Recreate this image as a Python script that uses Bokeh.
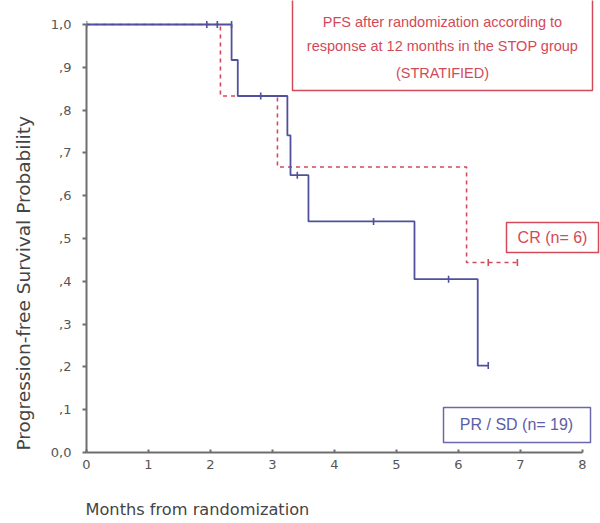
from bokeh.plotting import figure
from bokeh.models import Label, BoxAnnotation, FixedTicker, Title
from bokeh.embed import file_html
from bokeh.resources import INLINE
import math

# ---- data ----
blue_time = [0.0, 2.34, 2.44, 3.24, 3.29, 3.58, 5.29, 6.31, 6.48]
blue_surv = [1.0, 0.917, 0.833, 0.741, 0.648, 0.540, 0.405, 0.203, 0.203]
blue_cens_time = [0.0, 1.94, 2.11, 2.34, 2.81, 3.40, 4.63, 5.84, 6.48]
blue_cens_surv = [1.0, 1.0, 1.0, 1.0, 0.833, 0.648, 0.540, 0.405, 0.203]

red_time = [0.0, 2.16, 3.08, 6.13, 6.95]
red_surv = [1.0, 0.833, 0.667, 0.444, 0.444]
red_cens_time = [6.48, 6.95]
red_cens_surv = [0.444, 0.444]

x_ticks = [0, 1, 2, 3, 4, 5, 6, 7, 8]
y_ticks = [0.0, 0.1, 0.2, 0.3, 0.4, 0.5, 0.6, 0.7, 0.8, 0.9, 1.0]
y_tick_labels = ["0,0", ",1", ",2", ",3", ",4", ",5", ",6", ",7", ",8", ",9", "1,0"]

title_lines = ["PFS after randomization according to",
               "response at 12 months in the STOP group",
               "(STRATIFIED)"]
cr_label = "CR (n= 6)"
pr_label = "PR / SD (n= 19)"
x_title = "Months from randomization"
y_title = "Progression-free Survival Probability"

BLUE = "#4f519c"
RED = "#d24a58"
AXIS = "#6e6e6e"
TICK_TXT = "#555555"

# geometry in pixels: data area 0..8 x 0..1 -> px 86..582 x 452..24
L, R, T, B = 86, 582, 24, 452
W, H = 600, 523

def dx(px):
    return (px - L) / (R - L) * 8.0

def dy(py):
    return (B - py) / (B - T)

# frame extends to the right and top canvas edges so boxes are not clipped
p = figure(frame_width=W - L, frame_height=B, x_range=(0, dx(W)), y_range=(0, dy(0)),
           output_backend="svg", toolbar_location=None,
           min_border_left=L, min_border_right=0,
           min_border_top=0, min_border_bottom=H - B)
p.outline_line_color = None
p.xgrid.visible = False
p.ygrid.visible = False
p.background_fill_color = "white"
p.border_fill_color = "white"

# axes
for ax in (p.xaxis[0], p.yaxis[0]):
    ax.axis_line_color = AXIS
    ax.axis_line_width = 2
    ax.major_tick_line_color = AXIS
    ax.major_tick_line_width = 2
    ax.minor_tick_line_color = None
    ax.major_label_text_font = "DejaVu Sans"
    ax.major_label_text_font_size = "13px"
    ax.major_label_text_color = TICK_TXT

p.xaxis.ticker = FixedTicker(ticks=x_ticks)
p.xaxis.bounds = (0, 8)
p.xaxis.major_tick_in = 3
p.xaxis.major_tick_out = 0
p.xaxis.major_label_standoff = 7
# invisible spacer label so that the x title sits lower
p.xaxis.axis_label = "\u00a0"
p.xaxis.axis_label_text_font_size = "16.2px"
p.xaxis.axis_label_standoff = 6

p.yaxis.ticker = FixedTicker(ticks=y_ticks)
p.yaxis.bounds = (0, 1)
p.yaxis.major_label_overrides = {t: s for t, s in zip(y_ticks, y_tick_labels)}
p.yaxis.major_tick_in = 0
p.yaxis.major_tick_out = 4
p.yaxis.major_label_standoff = 11

# axis titles as side-panel titles
p.add_layout(Title(text=x_title, align="left", offset=-1, standoff=2,
                   vertical_align="top",
                   text_font="DejaVu Sans", text_font_size="16.2px",
                   text_font_style="normal", text_color="#444444"), "below")
p.add_layout(Title(text=y_title, align="left", offset=2, standoff=24,
                   vertical_align="top",
                   text_font="DejaVu Sans", text_font_size="18.5px",
                   text_font_style="normal", text_color="#444444"), "left")

# curves
p.step(red_time, red_surv, mode="after", line_color=RED, line_width=1.6,
       line_dash="4 4")
p.step(blue_time, blue_surv, mode="after", line_color=BLUE, line_width=1.8)
p.scatter(blue_cens_time, blue_cens_surv, marker="dash", angle=math.pi / 2,
          size=7, line_color=BLUE, line_width=1.6)
p.scatter(red_cens_time, red_cens_surv, marker="dash", angle=math.pi / 2,
          size=7, line_color=RED, line_width=1.6)

# boxes
def box(l, t, r, b, color):
    p.add_layout(BoxAnnotation(left=dx(l), right=dx(r), top=dy(t), bottom=dy(b),
                               fill_alpha=0, line_color=color, line_alpha=1.0,
                               line_width=1.5))

box(292, -2, 592, 90, RED)
box(506, 222, 598, 252, RED)
box(443, 407, 590, 442, "#6868aa")

def lab(text, px, py, color, size, font="Liberation Sans"):
    p.add_layout(Label(x=dx(px), y=dy(py), text=text, text_color=color,
                       text_font_size=size, text_font=font,
                       text_align="center", text_baseline="middle"))

lab(title_lines[0], 442, 21, RED, "14.5px")
lab(title_lines[1], 442, 45, RED, "14.5px")
lab(title_lines[2], 442, 72, RED, "14.5px")
lab(cr_label, 552, 237, RED, "16px")
lab(pr_label, 516, 424, "#5d5da6", "16px")

open("out.html", "w").write(file_html(p, INLINE))
